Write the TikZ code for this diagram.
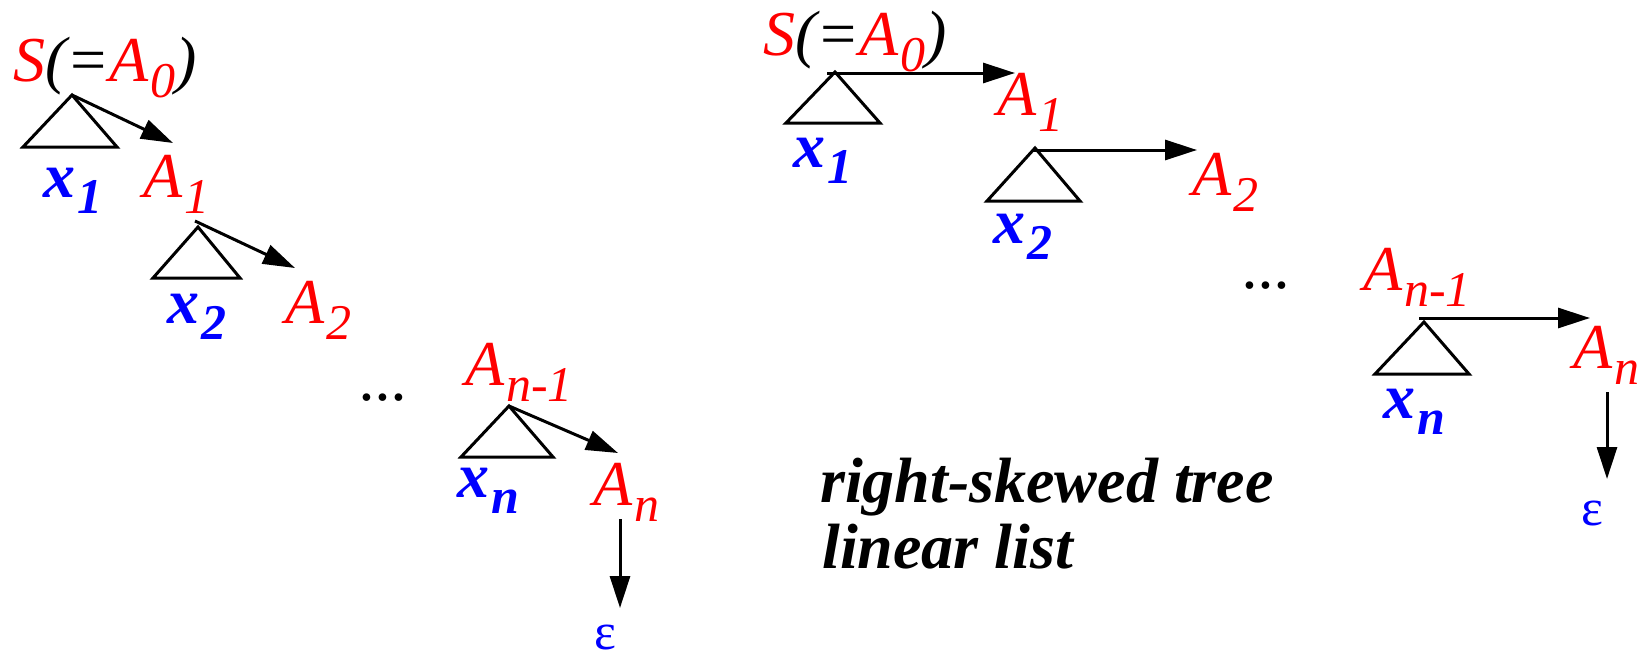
\documentclass[tikz,border=0pt]{standalone}
\usepackage{fontspec}
\setmainfont{LiberationSerif}[Extension=.ttf, UprightFont=*-Regular, ItalicFont=*-Italic, BoldFont=*-Bold, BoldItalicFont=*-BoldItalic]
\usetikzlibrary{arrows.meta}
\definecolor{tred}{RGB}{255,0,0}
\definecolor{tblue}{RGB}{0,0,255}
\newcommand\lsub[1]{\kern2pt\raisebox{-16pt}{\fontsize{50}{50}\selectfont #1}}
\tikzset{
  txt/.style={inner sep=0pt, anchor=base west, font=\rmfamily\fontsize{64}{64}\selectfont\itshape},
  nt/.style={txt, text=tred},
  term/.style={txt, text=tblue, font=\rmfamily\fontsize{64}{64}\selectfont\bfseries\itshape},
  eps/.style={inner sep=0pt, anchor=base, text=tblue, text depth=0pt, font=\rmfamily\fontsize{52}{52}\selectfont},
  lbl/.style={txt, font=\rmfamily\fontsize{64}{64}\selectfont\bfseries\itshape},
  tri/.style={line width=3pt, line join=miter},
  conn/.style={line width=3pt, -{Triangle[length=32pt,width=20pt]}}
}
\begin{document}
\begin{tikzpicture}[x=1pt,y=-1pt]
\useasboundingbox (0,0) rectangle (1638,656);
% ---------- left tree ----------
\node[nt] (sL) at (13,81) {S\textcolor{black}{(=}A\lsub{0}\textcolor{black}{)}};
\node[term] (x1L) at (43,197) {x\lsub{\bfseries 1}};
\node[nt] (a1L) at (143,197) {A\lsub{1}};
\node[term] (x2L) at (167,323) {x\lsub{\bfseries 2}};
\node[nt] (a2L) at (285,323) {A\lsub{2}};
\node[txt] (dotsL) at (360,400) {...};
\node[nt] (an1L) at (465,385) {A\lsub{n-1}};
\node[term] (xnL) at (457,497) {x\lsub{\bfseries n}};
\node[nt] (anL) at (593,505) {A\lsub{n}};
\node[eps] (epsL) at (605,649) {ε};

\coordinate (t1L) at (72,95);
\coordinate (t2L) at (198,227);
\coordinate (tnL) at (509,406);
\draw[tri] (t1L) -- ++(-49,52) -- ++(94,0) -- cycle;
\draw[tri] (t2L) -- ++(-45,51) -- ++(87,0) -- cycle;
\draw[tri] (tnL) -- ++(-48,51) -- ++(92,0) -- cycle;
\coordinate (e1L) at (173,143);
\coordinate (s2L) at (195,221);
\coordinate (e2L) at (295,268);
\coordinate (enL) at (618,453);
\coordinate (sdL) at (620,519);
\coordinate (edL) at (620,608);
\draw[conn] (t1L) -- (e1L);
\draw[conn] (s2L) -- (e2L);
\draw[conn] (tnL) -- (enL);
\draw[conn] (sdL) -- (edL);

% ---------- right tree ----------
\node[nt] (sR) at (763,55) {S\textcolor{black}{(=}A\lsub{0}\textcolor{black}{)}};
\node[term] (x1R) at (793,167) {x\lsub{\bfseries 1}};
\node[nt] (a1R) at (997,115) {A\lsub{1}};
\node[term] (x2R) at (993,243) {x\lsub{\bfseries 2}};
\node[nt] (a2R) at (1192,195) {A\lsub{2}};
\node[txt] (dotsR) at (1243,288) {...};
\node[nt] (an1R) at (1363,290) {A\lsub{n-1}};
\node[term] (xnR) at (1383,418) {x\lsub{\bfseries n}};
\node[nt] (anR) at (1573,368) {A\lsub{n}};
\node[eps] (epsR) at (1592,525) {ε};

\coordinate (t1R) at (835,72);
\coordinate (t2R) at (1035,148);
\coordinate (tnR) at (1424,322);
\draw[tri] (t1R) -- ++(-49,51) -- ++(94,0) -- cycle;
\draw[tri] (t2R) -- ++(-48,53) -- ++(93,0) -- cycle;
\draw[tri] (tnR) -- ++(-49,52) -- ++(94,0) -- cycle;
\coordinate (s1R) at (827,73);
\coordinate (e1R) at (1015,73);
\coordinate (s2R) at (1033,150);
\coordinate (e2R) at (1197,150);
\coordinate (snR) at (1419,318);
\coordinate (enR) at (1590,318);
\coordinate (sdR) at (1607,392);
\coordinate (edR) at (1607,479);
\draw[conn] (s1R) -- (e1R);
\draw[conn] (s2R) -- (e2R);
\draw[conn] (snR) -- (enR);
\draw[conn] (sdR) -- (edR);

% ---------- label ----------
\node[lbl] (lab1) at (820,502) {right-skewed tree};
\node[lbl] (lab2) at (822,568) {linear list};
\end{tikzpicture}
\end{document}
